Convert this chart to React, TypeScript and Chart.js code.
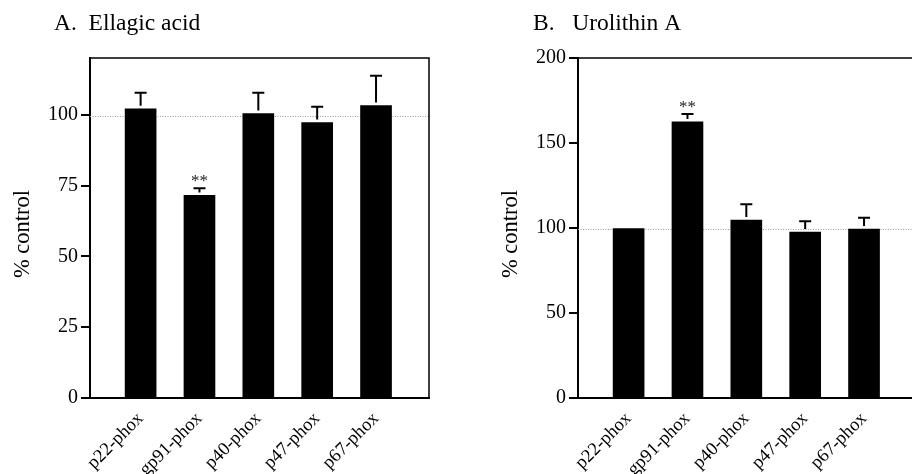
import React, { useEffect, useRef } from "react";
import { Chart, registerables } from "chart.js";

Chart.register(...registerables);

const categories = ["p22-phox", "gp91-phox", "p40-phox", "p47-phox", "p67-phox"];
const ellagicValues = [102.1, 71.5, 100.4, 97.2, 103.2];
const ellagicErrors = [5.6, 2.5, 7.3, 5.6, 10.5];
const ellagicStars = ["", "**", "", "", ""];
const ellagicTicks = [0, 25, 50, 75, 100];
const urolithinValues = [99.6, 162.4, 104.7, 97.6, 99.4];
const urolithinErrors = [0, 4.6, 9.3, 6.4, 6.6];
const urolithinStars = ["", "**", "", "", ""];
const urolithinTicks = [0, 50, 100, 150, 200];
const referenceValue = 99.6;

const SERIF = "'Liberation Serif', 'Times New Roman', serif";

type PanelProps = {
  title: string;
  values: number[];
  errors: number[];
  stars: string[];
  ticks: number[];
  yMax: number;
  axisWidth: number;
  canvasWidth: number;
  rightPad: number;
  titleX: number;
  yLabelX: number;
  left: number;
};

function Panel(p: PanelProps) {
  const ref = useRef<HTMLCanvasElement | null>(null);
  useEffect(() => {
    if (!ref.current) return;
    const overlay = {
      id: "overlay",
      beforeDatasetsDraw(chart: any) {
        const ctx = chart.ctx;
        const { left, right } = chart.chartArea;
        const y = Math.round(chart.scales.y.getPixelForValue(referenceValue)) + 0.5;
        ctx.save();
        ctx.strokeStyle = "#9a9a9a";
        ctx.lineWidth = 1;
        ctx.setLineDash([1, 1.5]);
        ctx.beginPath();
        ctx.moveTo(left, y);
        ctx.lineTo(right, y);
        ctx.stroke();
        ctx.restore();
      },
      afterDatasetsDraw(chart: any) {
        const ctx = chart.ctx;
        const xs = chart.scales.x;
        const ys = chart.scales.y;
        ctx.save();
        ctx.strokeStyle = "#000";
        ctx.lineWidth = 2;
        p.values.forEach((v, i) => {
          const e = p.errors[i];
          const x = xs.getPixelForValue(i);
          const yTop = ys.getPixelForValue(v + e);
          const yBar = ys.getPixelForValue(v);
          if (e > 0) {
            ctx.beginPath();
            ctx.moveTo(x, yBar - 3);
            ctx.lineTo(x, yTop);
            ctx.moveTo(x - 6, yTop);
            ctx.lineTo(x + 6, yTop);
            ctx.stroke();
          }
          if (p.stars[i]) {
            ctx.fillStyle = "#222";
            ctx.font = `17px ${SERIF}`;
            ctx.textAlign = "center";
            ctx.textBaseline = "alphabetic";
            ctx.fillText(p.stars[i], x, yTop - 2);
          }
        });
        ctx.restore();
      },
      afterDraw(chart: any) {
        const ctx = chart.ctx;
        const { left, right, top, bottom } = chart.chartArea;
        ctx.save();
        ctx.strokeStyle = "#000";
        ctx.lineWidth = 1.5;
        ctx.beginPath();
        ctx.moveTo(left - 1, top);
        ctx.lineTo(right, top);
        ctx.lineTo(right, bottom);
        ctx.stroke();
        ctx.fillStyle = "#000";
        ctx.font = `23.5px ${SERIF}`;
        ctx.textAlign = "left";
        ctx.textBaseline = "alphabetic";
        ctx.fillText(p.title, p.titleX, 30);
        ctx.font = `22.5px ${SERIF}`;
        ctx.translate(p.yLabelX, (top + bottom) / 2 + 6);
        ctx.rotate(-Math.PI / 2);
        ctx.textAlign = "center";
        ctx.textBaseline = "middle";
        ctx.fillText("% control", 0, 0);
        ctx.restore();
      },
    };
    const chart = new Chart(ref.current, {
      type: "bar",
      data: {
        datasets: [
          {
            data: p.values.map((v, i) => ({ x: i, y: v })),
            backgroundColor: "#000",
            borderWidth: 0,
            barThickness: 31,
          } as any,
        ],
      },
      options: {
        animation: false,
        responsive: false,
        maintainAspectRatio: false,
        layout: { padding: { top: 58, right: p.rightPad, left: 0, bottom: 0 } },
        plugins: { legend: { display: false }, tooltip: { enabled: false } },
        scales: {
          x: {
            type: "linear",
            offset: false,
            min: -0.86,
            max: 4.9,
            afterBuildTicks: (s: any) => {
              s.ticks = categories.map((_, i) => ({ value: i }));
            },
            afterFit: (s: any) => {
              s.height = 76;
            },
            grid: { display: false, offset: false },
            border: { display: true, color: "#000", width: 2 },
            ticks: {
              autoSkip: false,
              minRotation: 45,
              maxRotation: 45,
              padding: 2,
              color: "#000",
              font: { family: SERIF, size: 18.5 },
              callback: (v: any) => categories[v] ?? "",
            },
          },
          y: {
            min: 0,
            max: p.yMax,
            afterBuildTicks: (s: any) => {
              s.ticks = p.ticks.map((v) => ({ value: v }));
            },
            afterFit: (s: any) => {
              s.width = p.axisWidth;
            },
            grid: {
              display: true,
              drawOnChartArea: false,
              drawTicks: true,
              tickLength: 9,
              color: "#000",
              lineWidth: 2,
            },
            border: { display: true, color: "#000", width: 2 },
            ticks: {
              padding: 3,
              color: "#000",
              font: { family: SERIF, size: 20 },
            },
          },
        },
      } as any,
      plugins: [overlay],
    });
    return () => chart.destroy();
  }, []);
  return (
    <canvas
      ref={ref}
      width={p.canvasWidth}
      height={474}
      style={{ position: "absolute", left: p.left, top: 0, width: p.canvasWidth, height: 474 }}
    />
  );
}

export default function App() {
  return (
    <div
      style={{
        position: "fixed",
        left: 0,
        top: 0,
        width: 912,
        height: 474,
        overflow: "hidden",
        background: "#fff",
      }}
    >
      <Panel
        title={"A.  Ellagic acid"}
        values={ellagicValues}
        errors={ellagicErrors}
        stars={ellagicStars}
        ticks={ellagicTicks}
        yMax={120}
        axisWidth={90}
        canvasWidth={456}
        rightPad={27}
        titleX={54}
        yLabelX={23}
        left={0}
      />
      <Panel
        title={"B.   Urolithin A"}
        values={urolithinValues}
        errors={urolithinErrors}
        stars={urolithinStars}
        ticks={urolithinTicks}
        yMax={200}
        axisWidth={122}
        canvasWidth={490}
        rightPad={29}
        titleX={77}
        yLabelX={55}
        left={456}
      />
    </div>
  );
}
